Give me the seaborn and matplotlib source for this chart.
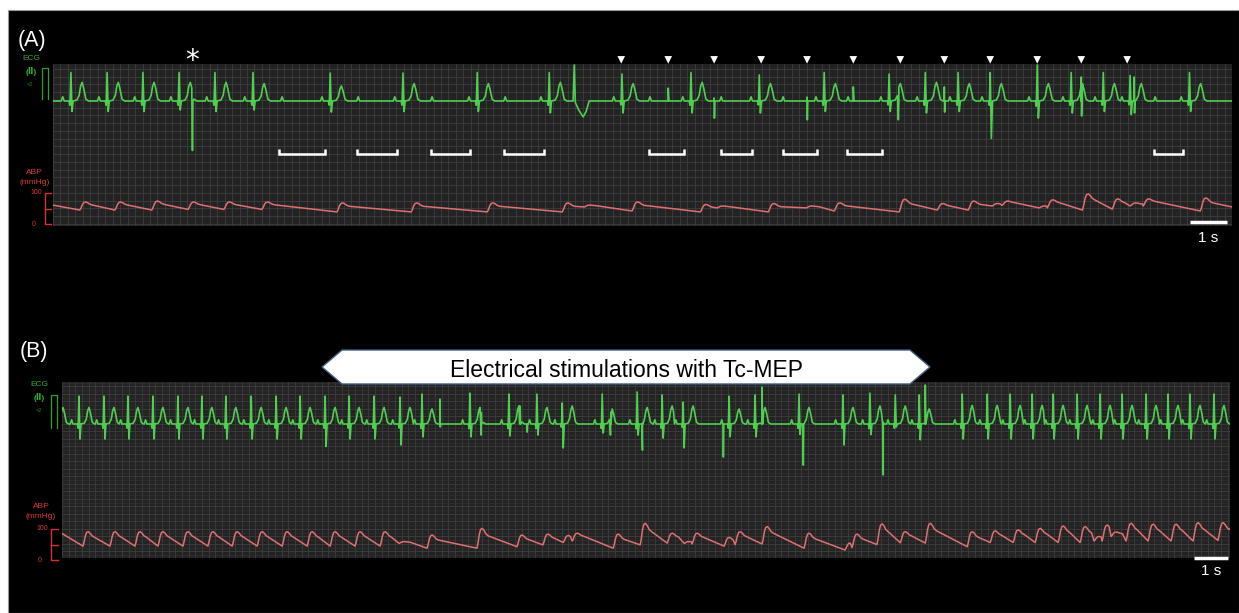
"""ECG / ABP monitor strips: (A) pauses + stim marks, (B) during Tc-MEP stimulation."""
import matplotlib
matplotlib.use("Agg")  # headless

import matplotlib.pyplot as plt
import numpy as np
import pandas as pd
import seaborn as sns
from matplotlib.lines import Line2D
from matplotlib.patches import Polygon, Rectangle
from matplotlib.ticker import MultipleLocator

W, H = 1239, 613
FONTS = ["Liberation Sans", "DejaVu Sans"]

ECG_GREEN = "#4fcf4f"
ECG_TEXT = "#2fae2f"
ABP_RED = "#e07070"
ABP_TEXT = "#d83a3a"

# ---------------------------------------------------------------------------
# Data (times in seconds from the left edge of each strip)
# ---------------------------------------------------------------------------

# panel A: QRS complexes
A_R_TIMES = [0.48, 1.45, 2.41, 3.38, 4.34, 5.36, 7.43, 9.38, 11.37, 13.30,
             15.25, 17.10, 18.93, 20.67, 22.41, 23.38, 24.26, 25.12, 26.38,
             27.29, 28.15, 28.87, 30.46]
A_R_AMP = [0.95, 0.95, 0.95, 0.95, 0.95, 0.95, 0.93, 0.93, 0.95, 0.95,
           0.9, 0.95, 0.87, 0.95, 0.9, 0.95, 0.95, 0.95, 1.2,
           0.95, 0.95, 0.85, 0.95]
A_S_AMP = [-0.35, -0.35, -0.35, -0.3, -0.35, -0.3, -0.37, -0.35, -0.35, -0.4,
           -0.4, -0.4, -0.4, -0.35, -0.35, -0.4, -0.35, -1.25, -0.57,
           -0.4, -0.35, -0.45, -0.35]
A_T_AMP = [0.62, 0.62, 0.62, 0.62, 0.62, 0.58, 0.5, 0.58, 0.58, 0.62,
           0.58, 0.62, 0.58, 0.58, 0.58, 0.62, 0.58, 0.58, 0.58,
           0.58, 0.58, 0.58, 0.58]
A_BLOCKED_P = [6.14, 8.18, 10.16, 12.12, 16.0, 17.91, 19.57, 21.31, 29.54]
A_WIDE_TIME = 13.97
# stimulation / ectopic spikes
A_ART_TIMES = [3.73, 16.49, 17.72, 20.21, 21.45, 22.65, 23.89, 27.56, 28.98]
A_ART_UP = [0.0, 0.43, 0.1, 0.13, 0.47, 0.0, 0.47, 0.8, 0.8]
A_ART_DOWN = [-1.65, 0.0, -0.57, -0.63, 0.0, -0.63, -0.37, -0.5, -0.4]
A_STIM_MARKS = [15.23, 16.49, 17.72, 18.98, 20.21, 21.45, 22.71, 23.89,
                25.12, 26.38, 27.56, 28.79]
A_PAUSE_START = [6.06, 8.15, 10.13, 12.09, 15.98, 17.91, 19.57, 21.29, 29.52]
A_PAUSE_END = [7.29, 9.22, 11.18, 13.16, 16.92, 18.74, 20.48, 22.23, 30.29]
A_ASTERISK = 3.73

# panel A: arterial pressure (mmHg)
A_ABP_START = 61
A_ABP_END = 55
A_ABP_FOOT_T = [0.72, 1.66, 2.65, 3.62, 4.58, 5.60, 7.61, 9.60, 11.64, 13.65,
                14.24, 15.52, 17.35, 17.80, 19.17, 20.19, 20.94, 22.68, 23.70,
                24.53, 25.17, 25.44, 26.43, 26.65, 27.59, 28.39, 28.87, 29.22,
                30.75]
A_ABP_FOOT = [45, 45, 45, 47, 47, 47, 39, 39, 39, 39,
              55, 42, 39, 52, 39, 52, 42, 39, 45,
              45, 58, 60, 52, 52, 45, 48, 58, 58,
              42]
A_ABP_PEAK = [71, 71, 74, 71, 71, 71, 68, 68, 68, 68,
              61, 71, 63, 58, 66, 58, 68, 80, 66,
              74, 66, 74, 58, 78, 97, 81, 68, 81,
              84]

# panel B: QRS complexes
B_R_TIMES = [-0.27, 0.51, 1.26, 1.98, 2.73, 3.48, 4.20, 4.92, 5.68, 6.43,
             7.15, 7.90, 8.62, 9.37, 10.15, 10.81, 12.25, 13.42, 14.26, 15.02,
             16.22, 17.27, 18.02, 18.65, 20.03, 20.81, 22.13, 23.45, 24.26,
             25.02, 25.74, 27.03, 27.78, 28.47, 29.13, 29.76, 30.48, 31.17,
             31.83, 32.55, 33.21, 33.87, 34.59]
B_R_AMP = [0.93, 0.93, 0.93, 0.93, 0.93, 0.93, 0.93, 0.93, 0.93, 0.93,
           0.93, 0.93, 0.93, 0.93, 0.9, 1.0, 1.03, 1.0, 1.0, 0.7,
           1.0, 1.07, 0.97, 0.73, 0.93, 0.97, 1.0, 0.97, 1.03,
           0.97, 0.97, 1.0, 1.0, 1.0, 1.0, 1.0, 1.0, 1.0,
           1.0, 1.0, 1.0, 1.0, 1.0]
B_S_AMP = [-0.5, -0.5, -0.5, -0.5, -0.5, -0.5, -0.5, -0.5, -0.5, -0.5,
           -0.5, -0.75, -0.5, -0.5, -0.7, -0.43, -0.43, -0.4, -0.37, -0.8,
           -0.3, -0.37, -0.47, -0.8, -0.43, -0.43, -0.35, -0.7, -0.35,
           -0.1, -0.53, -0.5, -0.5, -0.5, -0.5, -0.5, -0.5, -0.5,
           -0.5, -0.5, -0.5, -0.5, -0.5]
B_T_AMP = [0.55, 0.55, 0.55, 0.55, 0.55, 0.55, 0.55, 0.55, 0.55, 0.55,
           0.55, 0.55, 0.55, 0.55, 0.55, 0.5, 0.55, 0.6, 0.55, 0.6,
           0.5, 0.55, 0.6, 0.6, 0.5, 0.55, 0.55, 0.55, 0.6,
           0.6, 0.5, 0.62, 0.62, 0.62, 0.62, 0.62, 0.62, 0.62,
           0.62, 0.62, 0.62, 0.62, 0.62]
B_ART_TIMES = [11.35, 12.58, 13.75, 13.96, 16.46, 17.42, 19.85, 21.02, 22.25,
               24.65, 25.92]
B_ART_UP = [0.83, 0.0, 0.6, 0.0, 0.0, 0.0, 0.0, 1.23, 0.0, 0.0, 1.3]
B_ART_DOWN = [-0.1, -0.37, 0.0, -0.27, -0.37, -0.87, -1.1, 0.0, -1.37, -1.7, 0.0]

# panel B: arterial pressure (mmHg)
B_ABP_START = 85
B_ABP_END = 100
B_ABP_FOOT_T = [0.63, 1.44, 2.19, 2.88, 3.63, 4.38, 5.11, 5.86, 6.61, 7.36,
                8.05, 8.80, 9.55, 10.12, 10.96, 12.46, 13.66, 14.44, 15.05,
                15.32, 16.55, 17.36, 18.17, 18.68, 18.92, 19.88, 20.21, 21.02,
                22.28, 23.51, 23.72, 24.47, 25.17, 25.92, 27.18, 27.87, 28.56,
                29.22, 29.91, 30.57, 30.99, 31.23, 31.50, 31.95, 32.61, 33.30,
                33.96, 34.71]
B_ABP_FOOT = [43, 43, 43, 43, 43, 43, 43, 43, 43, 43,
              43, 43, 43, 52, 36, 36, 41, 47, 55,
              60, 36, 47, 53, 52, 50, 43, 48, 50,
              36, 30, 38, 48, 54, 53, 41, 55, 55,
              55, 55, 55, 60, 60, 75, 60, 60, 60,
              60, 62]
B_ABP_PEAK = [91, 91, 91, 91, 91, 91, 91, 91, 91, 91,
              91, 91, 91, 58, 80, 102, 80, 83, 78,
              86, 83, 119, 86, 58, 86, 72, 91, 108,
              86, 53, 83, 117, 91, 119, 91, 94, 97,
              102, 110, 108, 75, 113, 90, 119, 116, 116,
              121, 121]

# ---------------------------------------------------------------------------
# Waveform templates (shape of one complex)
# ---------------------------------------------------------------------------

ECG_DT = [-0.26, -0.22, -0.18, -0.05, -0.025, 0.0, 0.03, 0.06, 0.16, 0.22,
          0.26, 0.30, 0.34, 0.40, 0.47]
ECG_NORM = [0, 1, 0, 0, -0.15, 1, 1, 0, 0.05, 0.3, 0.8, 1, 0.7, 0.1, 0]
ECG_PART = "ppp0rrs0ttttttt"
P_AMP = 0.14

WIDE_DT = [-0.03, 0.0, 0.03, 0.12, 0.24, 0.32, 0.40]
WIDE_VAL = [0, 1.2, -0.05, -0.3, -0.53, -0.35, 0]

# rounded pressure hump: upstroke, rounded top, dicrotic fall
ABP_DT = [0, 0.03, 0.07, 0.11, 0.16, 0.21, 0.27, 0.34]
ABP_FRAC = [0, 0.25, 0.7, 0.95, 1.0, 0.9, 0.72, 0.62]


def build_ecg(r_times, r_amp, s_amp, t_amp, art_t, art_up, art_down,
              blocked_p=(), wide_t=None, tmax=40.0):
    dt = np.asarray(ECG_DT)
    norm = np.asarray(ECG_NORM)
    ts, vs = [-1.0], [0.0]
    for i, t0 in enumerate(r_times):
        amp = {"p": P_AMP, "r": r_amp[i], "s": s_amp[i], "t": t_amp[i], "0": 0.0}
        vals = norm * np.array([amp[c] for c in ECG_PART])
        tt = t0 + dt
        if i + 1 < len(r_times):
            keep = tt < r_times[i + 1] + dt[0]
            tt, vals = tt[keep], vals[keep]
        ts.extend(tt)
        vs.extend(vals)
    for t0 in blocked_p:
        ts.extend([t0 - 0.04, t0, t0 + 0.04])
        vs.extend([0.0, P_AMP, 0.0])
    for t0, up, down in zip(art_t, art_up, art_down):
        ts.append(t0 - 0.008)
        vs.append(0.0)
        if up:
            ts.append(t0)
            vs.append(up)
        if down:
            ts.append(t0 + 0.008)
            vs.append(down)
        ts.append(t0 + 0.02)
        vs.append(0.0)
    if wide_t is not None:
        ts.extend(wide_t + np.asarray(WIDE_DT))
        vs.extend(WIDE_VAL)
    ts.append(tmax + 1)
    vs.append(0.0)
    order = np.argsort(ts, kind="stable")
    return pd.DataFrame({"t": np.asarray(ts)[order], "v": np.asarray(vs)[order]})


def build_abp(start_v, foot_t, foot_v, peak_v, tmax, end_v):
    dt = np.asarray(ABP_DT)
    frac = np.asarray(ABP_FRAC)
    ts, vs = [0.0], [float(start_v)]
    for i, t0 in enumerate(foot_t):
        tt = t0 + dt
        vals = foot_v[i] + frac * (peak_v[i] - foot_v[i])
        limit = foot_t[i + 1] if i + 1 < len(foot_t) else tmax
        keep = tt < limit
        ts.extend(tt[keep])
        vs.extend(vals[keep])
    ts.append(tmax)
    vs.append(float(end_v))
    return pd.DataFrame({"t": ts, "v": vs})


# ---------------------------------------------------------------------------
# Figure helpers (pixel coords of the 1239x613 canvas)
# ---------------------------------------------------------------------------


def px_rect(left, top, right, bottom):
    return [left / W, 1 - bottom / H, (right - left) / W, (bottom - top) / H]


def ftext(fig, x, y, s, **kw):
    kw.setdefault("family", FONTS)
    fig.text(x / W, 1 - y / H, s, **kw)


def fline(fig, xs, ys, **kw):
    fig.add_artist(Line2D([x / W for x in xs], [1 - y / H for y in ys],
                          transform=fig.transFigure, **kw))


def make_strip(fig, rect, minor_y=False):
    ax = fig.add_axes(rect)
    ax.set_facecolor("#232323")
    ax.xaxis.set_major_locator(MultipleLocator(0.2))
    ax.yaxis.set_major_locator(MultipleLocator(25))
    ax.grid(True, which="major", color="#3e3e3e", lw=0.6)
    if minor_y:
        ax.yaxis.set_minor_locator(MultipleLocator(12.5))
        ax.grid(True, which="minor", axis="y", color="#313131", lw=0.5)
    ax.set_axisbelow(True)
    ax_e = ax.twinx()
    return ax, ax_e


def finish_strip(ax, ax_e, xmax, abp_ylim, ecg_ylim):
    ax.set_xlim(0, xmax)
    ax.set_ylim(*abp_ylim)
    ax_e.set_ylim(*ecg_ylim)
    for a in (ax, ax_e):
        a.set_xlabel("")
        a.set_ylabel("")
        for sp in a.spines.values():
            sp.set_visible(False)
        a.tick_params(which="both", length=0, labelbottom=False, labelleft=False,
                      labelright=False)


def side_labels(fig, ecg_x, ecg_y, pulse, abp_x, abp_y, brk):
    ftext(fig, ecg_x, ecg_y, "ECG", color=ECG_TEXT, fontsize=6, ha="center", va="center")
    ftext(fig, ecg_x, ecg_y + 12, "(\u2161)", color=ECG_TEXT, fontsize=6,
          ha="center", va="center", weight="bold")
    ftext(fig, ecg_x - 1, ecg_y + 25, "\u00d72", color="#1f8a1f", fontsize=4,
          ha="center", va="center")
    px0, px1, py0, py1 = pulse
    fline(fig, [px0, px0, px1, px1], [py1, py0, py0, py1], color="#2aa52a", lw=0.9)
    ftext(fig, abp_x, abp_y, "ABP", color=ABP_TEXT, fontsize=6, ha="center", va="center")
    ftext(fig, abp_x, abp_y + 11, "(mmHg)", color=ABP_TEXT, fontsize=6,
          ha="center", va="center")
    bx0, bx1, by_top, by_bot = brk
    by_mid = (by_top + by_bot) / 2
    fline(fig, [bx1, bx0, bx0, bx1], [by_top, by_top, by_bot, by_bot], color="#d63333", lw=1.0)
    fline(fig, [bx0, bx1], [by_mid, by_mid], color="#d63333", lw=1.0)
    ftext(fig, bx0 - 3, by_top, "100", color=ABP_TEXT, fontsize=5, ha="right", va="center")
    ftext(fig, bx0 - 9, by_bot, "0", color=ABP_TEXT, fontsize=5, ha="right", va="center")


# ---------------------------------------------------------------------------
# Draw
# ---------------------------------------------------------------------------

fig = plt.figure(figsize=(W / 100, H / 100), dpi=100)
fig.patch.set_facecolor("white")
fig.add_artist(Rectangle((8 / W, 0), 1 - 8 / W, 1 - 10 / H, transform=fig.transFigure,
                         facecolor="black", edgecolor="#9a9a9a", lw=0.8, zorder=-10))

# ---- panel A ----
A_XMAX = 31.6
A_ABP_YLIM = (-6.45, 516)
A_ECG_YLIM = (-4.167, 1.233)
axA, axA_e = make_strip(fig, px_rect(53, 64, 1232, 226))

ecg_a = build_ecg(A_R_TIMES, A_R_AMP, A_S_AMP, A_T_AMP, A_ART_TIMES, A_ART_UP,
                  A_ART_DOWN, blocked_p=A_BLOCKED_P, wide_t=A_WIDE_TIME, tmax=A_XMAX)
abp_a = build_abp(A_ABP_START, A_ABP_FOOT_T, A_ABP_FOOT, A_ABP_PEAK, A_XMAX, A_ABP_END)
sns.lineplot(data=abp_a, x="t", y="v", ax=axA, color=ABP_RED, lw=1.1,
             sort=False, estimator=None, errorbar=None)
sns.lineplot(data=ecg_a, x="t", y="v", ax=axA_e, color=ECG_GREEN, lw=1.2,
             sort=False, estimator=None, errorbar=None)

# pause brackets
for s, e in zip(A_PAUSE_START, A_PAUSE_END):
    axA_e.plot([s, s, e, e], [-1.6, -1.77, -1.77, -1.6], color="white", lw=1.8,
               solid_joinstyle="miter", solid_capstyle="butt")
# stimulation marks
sns.scatterplot(x=A_STIM_MARKS, y=[1.37] * len(A_STIM_MARKS), ax=axA_e, marker="v",
                s=30, color="white", edgecolor="none", clip_on=False, zorder=5)
axA_e.text(A_ASTERISK, 1.05, "*", color="white", fontsize=20, ha="center",
           va="baseline", family="DejaVu Sans", clip_on=False)
# 1 s scale bar
axA.plot([30.48, 31.47], [6.5, 6.5], color="white", lw=2.5, solid_capstyle="butt",
         clip_on=False)
finish_strip(axA, axA_e, A_XMAX, A_ABP_YLIM, A_ECG_YLIM)
ftext(fig, 1208, 242, "1 s", color="white", fontsize=11, ha="center", va="baseline")
ftext(fig, 18, 46, "(A)", color="white", fontsize=15.5, ha="left", va="baseline")
side_labels(fig, 31, 59, (42, 48, 68, 99), 34.5, 172, (45, 51, 193, 224))

# ---- panel B ----
B_XMAX = 35.07
B_ABP_YLIM = (3.33, 590)
B_ECG_YLIM = (-4.467, 1.4)
axB, axB_e = make_strip(fig, px_rect(62, 382, 1230, 558), minor_y=True)
ecg_b = build_ecg(B_R_TIMES, B_R_AMP, B_S_AMP, B_T_AMP, B_ART_TIMES, B_ART_UP,
                  B_ART_DOWN, tmax=B_XMAX)
abp_b = build_abp(B_ABP_START, B_ABP_FOOT_T, B_ABP_FOOT, B_ABP_PEAK, B_XMAX, B_ABP_END)
sns.lineplot(data=abp_b, x="t", y="v", ax=axB, color=ABP_RED, lw=1.1,
             sort=False, estimator=None, errorbar=None)
sns.lineplot(data=ecg_b, x="t", y="v", ax=axB_e, color=ECG_GREEN, lw=1.2,
             sort=False, estimator=None, errorbar=None)
axB.plot([34.0, 35.0], [3.3, 3.3], color="white", lw=2.5, solid_capstyle="butt",
         clip_on=False)
finish_strip(axB, axB_e, B_XMAX, B_ABP_YLIM, B_ECG_YLIM)
ftext(fig, 1211, 575, "1 s", color="white", fontsize=11, ha="center", va="baseline")
ftext(fig, 20, 357, "(B)", color="white", fontsize=15.5, ha="left", va="baseline")
side_labels(fig, 39.5, 385, (51, 57, 395, 428), 41, 506, (51, 58, 529, 560))

# stimulation arrow
arrow_px = [(322, 367), (342, 350), (910, 350), (930, 367), (910, 384), (342, 384)]
fig.add_artist(Polygon([(x / W, 1 - y / H) for x, y in arrow_px], closed=True,
                       transform=fig.transFigure, facecolor="white",
                       edgecolor="#3d5f85", lw=1.0))
ftext(fig, 626, 377, "Electrical stimulations with Tc-MEP", color="black",
      fontsize=16.5, ha="center", va="baseline")

fig.savefig("out.png", dpi=100, facecolor=fig.get_facecolor())
plt.close(fig)
